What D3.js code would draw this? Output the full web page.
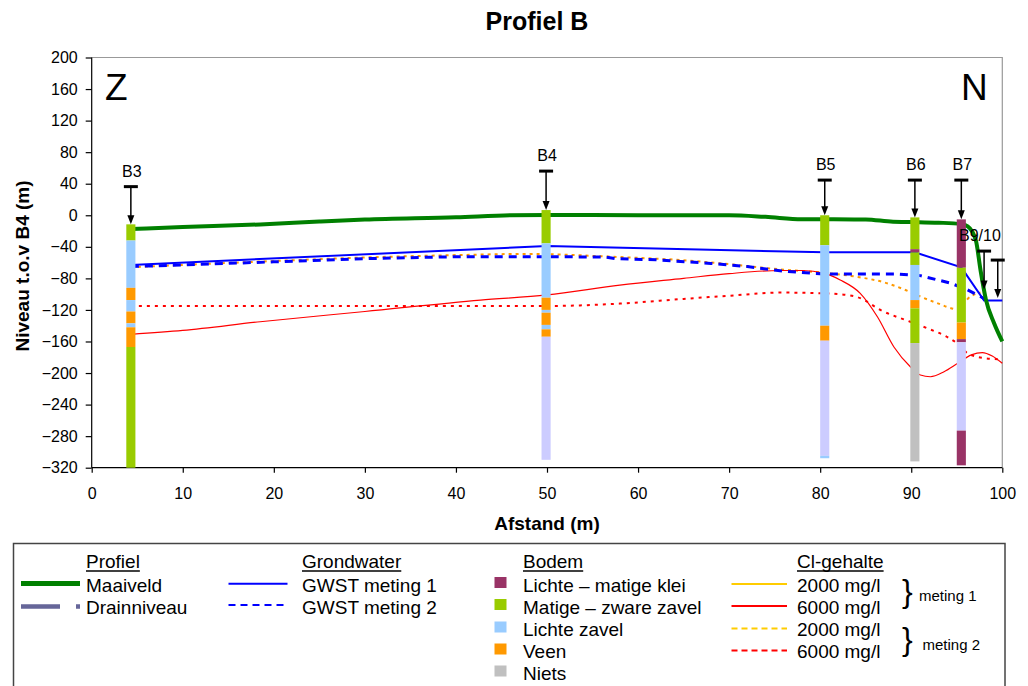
<!DOCTYPE html>
<html>
<head>
<meta charset="utf-8">
<script src="https://cdn.jsdelivr.net/npm/d3@7"></script>
<style>
  body { margin: 0; background: #fff; }
  svg { display: block; font-family: "Liberation Sans", Arial, sans-serif; }
</style>
</head>
<body>
<div id="chart"></div>
<script>
(function(){

// ---- data ----
const xTickValues = [0, 10, 20, 30, 40, 50, 60, 70, 80, 90, 100];
const yTickValues = [200, 160, 120, 80, 40, 0, -40, -80, -120, -160, -200, -240, -280, -320];

// Maaiveld (ground level)
const maaiveld = [[4.3,-17.5],[10,-15],[18.5,-11.6],[25,-8],[30,-5.5],[40,-2.5],[46,0],[50,0.5],[60,0],[70,0],[74,-2],[78,-5],[85,-5.3],[88,-8.2],[90.4,-8.6],[93,-9.4],[95.5,-11.2],[96.2,-14],[97.1,-32],[97.6,-69],[98.2,-107],[99.1,-137],[100,-160]];

// groundwater
const gwst1 = [[4.3,-63],[50,-39],[80.5,-47],[90.4,-47],[95.5,-66],[98,-108],[100,-108]];
const gwst2 = [[4.3,-65],[10,-63],[20,-59],[30,-55],[40,-52.5],[50,-52.5],[56.5,-53],[57.5,-55],[62,-56.5],[68,-61],[72,-65],[76,-71],[80.5,-74.5],[88.5,-74.5],[91,-76.5],[94.3,-86],[96.1,-94],[97.6,-103],[98.2,-107]];

// chloride
const cl6000m1 = [[4.3,-151],[10,-146],[18.5,-135],[30,-122],[42.7,-107.5],[50,-101],[58,-88.5],[65,-80],[70,-74],[75.6,-70],[78,-70],[80.5,-73.7],[82.2,-82],[84.4,-99],[86.3,-129],[88.1,-167],[89.9,-192],[91,-202.5],[92.1,-204.7],[93.6,-198.4],[95.1,-187.7],[96.6,-177],[97.8,-174],[98.9,-178.4],[100,-187.7]];
const cl2000m2 = [[4.3,-66],[10,-63],[20,-58],[30,-53.5],[40,-50.5],[48,-49],[52,-50],[56,-52],[60,-54],[65,-57],[70,-62],[75.6,-68.6],[80.5,-73],[84,-78],[87,-85],[89,-93],[91,-103],[93,-112],[95,-119],[96.5,-103],[97.6,-98]];
const cl6000m2 = [[4.3,-115],[30,-115],[50,-115],[58,-112],[65,-106],[70,-102],[75.6,-98],[80.5,-99],[82.9,-101],[84.4,-105],[86.6,-120],[89.9,-135],[91.7,-143],[93.9,-154],[95,-162],[96.2,-175],[98,-181],[100,-182.6]];

// boreholes
const boreNames = ['B3', 'B4', 'B5', 'B6', 'B7'];
const boreX = [4.3, 49.9, 80.5, 90.4, 95.5];
const boreArrowTop = [36.3, 56, 44.6, 44.6, 44.6];
const layersB3 = [[-11.5,-32,'zavel'],[-32,-92,'lzavel'],[-92,-107.5,'veen'],[-107.5,-122,'lzavel'],[-122,-137,'veen'],[-137,-142,'lzavel'],[-142,-167,'veen'],[-167,-320,'zavel']];
const layersB4 = [[6.6,-35.6,'zavel'],[-35.6,-104.5,'lzavel'],[-104.5,-120,'veen'],[-120,-123.5,'lzavel'],[-123.5,-139,'veen'],[-139,-144.6,'lzavel'],[-144.6,-154,'veen'],[-154,-310,'onb']];
const layersB5 = [[0,-38,'zavel'],[-38,-140,'lzavel'],[-140,-159,'veen'],[-159,-305,'onb'],[-305,-308,'lzavel']];
const layersB6 = [[-2.7,-43,'zavel'],[-43,-47,'klei'],[-47,-63,'zavel'],[-63,-107.5,'lzavel'],[-107.5,-118,'veen'],[-118,-162,'zavel'],[-162,-312,'niets']];
const layersB7 = [[-5.2,-66.5,'klei'],[-66.5,-136,'zavel'],[-136,-157,'veen'],[-157,-161,'klei'],[-161,-273,'onb'],[-273,-317,'klei']];
const boreLayers = [layersB3, layersB4, layersB5, layersB6, layersB7];

// B9/10 arrows (no column)
const extraX = [98.0, 99.5];
const extraTop = [-45.4, -56.8];
const extraBottom = [-94, -105];

const soilColors = {
    klei: '#993366',
    zavel: '#99cc00',
    lzavel: '#99ccff',
    veen: '#ff9900',
    niets: '#c0c0c0',
    onb: '#ccccff'
};

// ---- chart ----
const width = 1028, height = 686;
const svg = d3.select('#chart').append('svg')
    .attr('width', width)
    .attr('height', height);

const xScale = d3.scaleLinear().domain([0, 100]).range([91.7, 1002.3]);
const yScale = d3.scaleLinear().domain([-320, 200]).range([467.7, 57.5]);

// title
svg.append('text')
    .attr('x', 537).attr('y', 30)
    .attr('text-anchor', 'middle')
    .attr('font-size', '25px').attr('font-weight', 'bold')
    .text('Profiel B');

// plot border (top + right in grey)
svg.append('path')
    .attr('d', `M${xScale(0)},${yScale(200)}H${xScale(100)}V${yScale(-320)}`)
    .attr('fill', 'none').attr('stroke', '#999').attr('stroke-width', 1.2);

// axes
const xAxis = d3.axisBottom(xScale).tickValues(xTickValues).tickSize(5).tickPadding(15);
const yAxis = d3.axisLeft(yScale).tickValues(yTickValues).tickSize(6).tickPadding(8);

const gx = svg.append('g')
    .attr('transform', `translate(0,${yScale(-320)})`)
    .call(xAxis);
gx.select('.domain').attr('d', `M${xScale(0)},0H${xScale(100)}`);
const gy = svg.append('g')
    .attr('transform', `translate(${xScale(0)},0)`)
    .call(yAxis);
gy.select('.domain').attr('d', `M0,${yScale(200)}V${yScale(-320)}`);
svg.selectAll('.tick text').attr('font-size', '16px').attr('font-family', '"Liberation Sans", Arial, sans-serif').attr('fill', '#000');
svg.selectAll('.domain, .tick line').attr('stroke', '#000').attr('stroke-width', 1.2);

// axis titles
svg.append('text')
    .attr('x', 547).attr('y', 530)
    .attr('text-anchor', 'middle')
    .attr('font-size', '19px').attr('font-weight', 'bold')
    .text('Afstand (m)');
svg.append('text')
    .attr('transform', 'translate(29,266) rotate(-90)')
    .attr('text-anchor', 'middle')
    .attr('font-size', '19px').attr('font-weight', 'bold')
    .text('Niveau t.o.v B4 (m)');

// Z / N
svg.append('text').attr('x', 105).attr('y', 100).attr('font-size', '37px').text('Z');
svg.append('text').attr('x', 961).attr('y', 100).attr('font-size', '37px').text('N');

// lines
const line = d3.line().x(d => xScale(d[0])).y(d => yScale(d[1]));
const smooth = d3.line().x(d => xScale(d[0])).y(d => yScale(d[1])).curve(d3.curveMonotoneX);

const plot = svg.append('g');
plot.append('path').datum(cl6000m2).attr('d', smooth)
    .attr('fill', 'none').attr('stroke', '#ff0000').attr('stroke-width', 2).attr('stroke-dasharray', '3,5');
plot.append('path').datum(cl2000m2).attr('d', smooth)
    .attr('fill', 'none').attr('stroke', '#ff9900').attr('stroke-width', 2).attr('stroke-dasharray', '3,4');
plot.append('path').datum(cl6000m1).attr('d', smooth)
    .attr('fill', 'none').attr('stroke', '#ff0000').attr('stroke-width', 1.2);
plot.append('path').datum(gwst2).attr('d', line)
    .attr('fill', 'none').attr('stroke', '#0000ff').attr('stroke-width', 3).attr('stroke-dasharray', '8,6');
plot.append('path').datum(gwst1).attr('d', line)
    .attr('fill', 'none').attr('stroke', '#0000ff').attr('stroke-width', 2);
plot.append('path').datum(maaiveld).attr('d', smooth)
    .attr('fill', 'none').attr('stroke', '#008000').attr('stroke-width', 4);

// borehole columns
const colW = xScale(1) - xScale(0);
boreNames.forEach((name, i) => {
    const g = svg.append('g');
    g.selectAll('rect')
        .data(boreLayers[i])
        .enter()
        .append('rect')
        .attr('x', xScale(boreX[i]) - colW / 2)
        .attr('y', d => yScale(d[0]))
        .attr('width', colW)
        .attr('height', d => yScale(d[1]) - yScale(d[0]))
        .attr('fill', d => soilColors[d[2]]);
});

// arrows
function drawArrow(xv, topV, botV) {
    const px = xScale(xv);
    const y0 = yScale(topV), y1 = yScale(botV);
    svg.append('line')
        .attr('x1', px - 7).attr('x2', px + 7).attr('y1', y0).attr('y2', y0)
        .attr('stroke', '#000').attr('stroke-width', 3);
    svg.append('line')
        .attr('x1', px).attr('x2', px).attr('y1', y0).attr('y2', y1 - 7)
        .attr('stroke', '#000').attr('stroke-width', 1.5);
    svg.append('path')
        .attr('d', `M${px - 3.5},${y1 - 9}L${px + 3.5},${y1 - 9}L${px},${y1}Z`)
        .attr('fill', '#000');
}

boreNames.forEach((name, i) => {
    drawArrow(boreX[i], boreArrowTop[i], boreLayers[i][0][0]);
    svg.append('text')
        .attr('x', xScale(boreX[i]) + 1)
        .attr('y', yScale(boreArrowTop[i]) - 10)
        .attr('text-anchor', 'middle')
        .attr('font-size', '16px')
        .text(name);
});
extraX.forEach((xv, i) => drawArrow(xv, extraTop[i], extraBottom[i]));
svg.append('text')
    .attr('x', 959).attr('y', 241)
    .attr('font-size', '16px')
    .text('B9/10');

// ---- legend ----
const legend = svg.append('g');
legend.append('rect')
    .attr('x', 13.5).attr('y', 543.5)
    .attr('width', 991.5).attr('height', 200)
    .attr('fill', '#fff').attr('stroke', '#444').attr('stroke-width', 1.5);

const rowY = [591.5, 613.5, 636, 658, 680];
const fs = '19px';

function header(x, txt) {
    const t = legend.append('text').attr('x', x).attr('y', 568).attr('font-size', fs).text(txt);
    const w = t.node().getComputedTextLength();
    legend.append('line').attr('x1', x).attr('x2', x + w).attr('y1', 571).attr('y2', 571)
        .attr('stroke', '#000').attr('stroke-width', 1.3);
}
function label(x, y, txt) {
    legend.append('text').attr('x', x).attr('y', y).attr('font-size', fs).text(txt);
}
function swatch(x1, x2, y, color, w, dash) {
    const l = legend.append('line').attr('x1', x1).attr('x2', x2).attr('y1', y).attr('y2', y)
        .attr('stroke', color).attr('stroke-width', w);
    if (dash) l.attr('stroke-dasharray', dash);
}

header(86, 'Profiel');
swatch(21, 80, 583.5, '#008000', 5);
label(86, rowY[0], 'Maaiveld');
swatch(21, 80, 606.5, '#666699', 4.5, '39,16,4,10');
label(86, rowY[1], 'Drainniveau');

header(302, 'Grondwater');
swatch(228.5, 287.5, 583.7, '#0000ff', 2);
label(302, rowY[0], 'GWST meting 1');
swatch(228.5, 287.5, 605, '#0000ff', 2, '7,5');
label(302, rowY[1], 'GWST meting 2');

header(523, 'Bodem');
const bodemKeys = ['klei', 'zavel', 'lzavel', 'veen', 'niets'];
const bodemLabels = ['Lichte \u2013 matige klei', 'Matige \u2013 zware zavel', 'Lichte zavel', 'Veen', 'Niets'];
bodemKeys.forEach((k, i) => {
    legend.append('rect')
        .attr('x', 494.5).attr('y', rowY[i] - 14.5)
        .attr('width', 12).attr('height', 11)
        .attr('fill', soilColors[k]);
    label(523, rowY[i], bodemLabels[i]);
});

header(797, 'Cl-gehalte');
const clColors = ['#ffcc00', '#ff0000', '#ffcc00', '#ff0000'];
const clDash = [null, null, '6,4', '6,4'];
const clLabels = ['2000 mg/l', '6000 mg/l', '2000 mg/l', '6000 mg/l'];
clLabels.forEach((txt, i) => {
    swatch(731.5, 787, rowY[i] - 7.5, clColors[i], 2, clDash[i]);
    label(797, rowY[i], txt);
});
legend.append('text').attr('x', 902).attr('y', 602).attr('font-size', '32px').text('}');
legend.append('text').attr('x', 919).attr('y', 601).attr('font-size', '15px').text('meting 1');
legend.append('text').attr('x', 902).attr('y', 650).attr('font-size', '32px').text('}');
legend.append('text').attr('x', 922.5).attr('y', 650).attr('font-size', '15px').text('meting 2');

})();
</script>
</body>
</html>
